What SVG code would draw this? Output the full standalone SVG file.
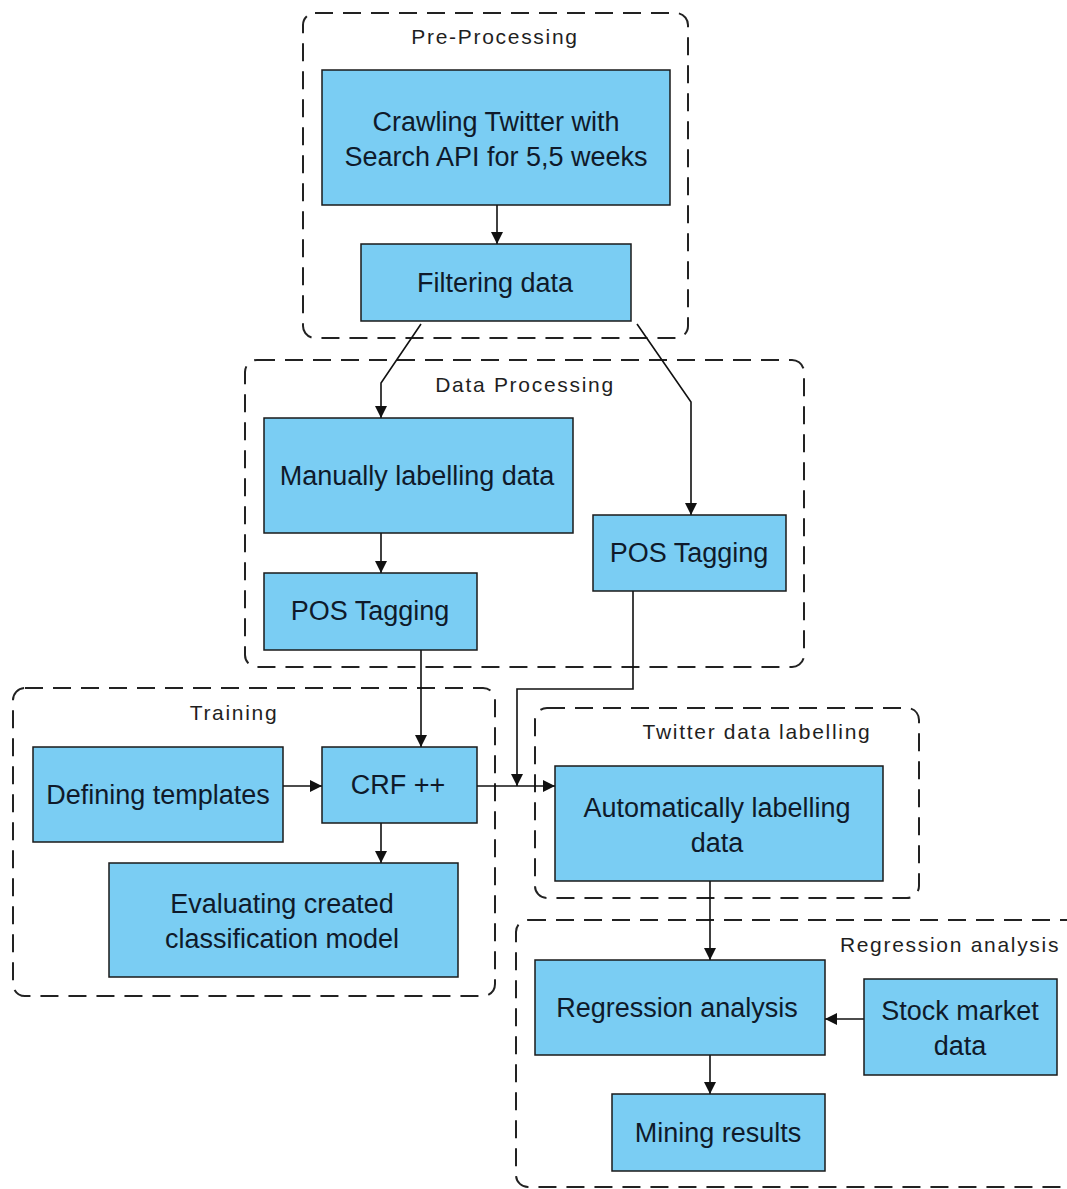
<svg xmlns="http://www.w3.org/2000/svg" width="1067" height="1189" viewBox="0 0 1067 1189">
<defs>
<marker id="ah" viewBox="0 0 10 10" refX="10" refY="5" markerWidth="12" markerHeight="12" markerUnits="userSpaceOnUse" orient="auto">
<path d="M0,0 L10,5 L0,10 Z" fill="#111"/>
</marker>
<style>
.grp{fill:none;stroke:#222;stroke-width:2;stroke-dasharray:18 10}
.gl{font-family:"Liberation Sans",Arial,sans-serif;font-size:21px;letter-spacing:1.7px;fill:#1f1f1f;text-anchor:middle;dominant-baseline:central}
.box{fill:#7ACDF3;stroke:#1a1a1a;stroke-width:1.5}
.t{font-family:"Liberation Sans",Arial,sans-serif;font-size:27px;fill:#0f1a2a;text-anchor:middle;dominant-baseline:central}
.c{fill:none;stroke:#111;stroke-width:1.6;marker-end:url(#ah)}
</style>
</defs>
<rect width="1067" height="1189" fill="#fff"/>
<g id="groups">
<g id="g-pre"><rect class="grp" x="303" y="13" width="385" height="325" rx="12"/><text class="gl" x="495" y="36">Pre-Processing</text></g>
<g id="g-data"><rect class="grp" x="245" y="360" width="559" height="307" rx="12"/><text class="gl" x="525" y="384">Data Processing</text></g>
<g id="g-train"><rect class="grp" x="13" y="688" width="482" height="308" rx="12"/><text class="gl" x="234" y="712">Training</text></g>
<g id="g-twit"><rect class="grp" x="535" y="708" width="384" height="190" rx="12"/><text class="gl" x="757" y="731">Twitter data labelling</text></g>
<g id="g-reg"><rect class="grp" x="516" y="920" width="570" height="267" rx="12"/><text class="gl" x="950" y="944">Regression analysis</text></g>
</g>
<g id="connectors">
<path class="c" d="M497,205 L497,244"/>
<path class="c" d="M421,324 L381,383 L381,418"/>
<path class="c" d="M637,324 L691,402 L691,515"/>
<path class="c" d="M381,533 L381,573"/>
<path class="c" d="M421,650 L421,747"/>
<path class="c" d="M633,591 L633,689 L517,689 L517,786"/>
<path class="c" d="M283,786 L322,786"/>
<path class="c" d="M381,823 L381,863"/>
<path class="c" d="M477,786 L555,786"/>
<path class="c" d="M710,881 L710,960"/>
<path class="c" d="M864,1019 L825,1019"/>
<path class="c" d="M710,1055 L710,1094"/>
</g>
<g id="n-crawl"><rect class="box" x="322" y="70" width="348" height="135"/><text class="t" x="496" y="122">Crawling Twitter with</text><text class="t" x="496" y="157">Search API for 5,5 weeks</text></g>
<g id="n-filter"><rect class="box" x="361" y="244" width="270" height="77"/><text class="t" x="495" y="283">Filtering data</text></g>
<g id="n-manual"><rect class="box" x="264" y="418" width="309" height="115"/><text class="t" x="417" y="476">Manually labelling data</text></g>
<g id="n-pos1"><rect class="box" x="264" y="573" width="213" height="77"/><text class="t" x="370" y="611">POS Tagging</text></g>
<g id="n-pos2"><rect class="box" x="593" y="515" width="193" height="76"/><text class="t" x="689" y="553">POS Tagging</text></g>
<g id="n-def"><rect class="box" x="33" y="747" width="250" height="95"/><text class="t" x="158" y="795">Defining templates</text></g>
<g id="n-crf"><rect class="box" x="322" y="747" width="155" height="76"/><text class="t" x="398" y="785">CRF ++</text></g>
<g id="n-eval"><rect class="box" x="109" y="863" width="349" height="114"/><text class="t" x="282" y="904">Evaluating created</text><text class="t" x="282" y="939">classification model</text></g>
<g id="n-auto"><rect class="box" x="555" y="766" width="328" height="115"/><text class="t" x="717" y="808">Automatically labelling</text><text class="t" x="717" y="843">data</text></g>
<g id="n-reg"><rect class="box" x="535" y="960" width="290" height="95"/><text class="t" x="677" y="1008">Regression analysis</text></g>
<g id="n-stock"><rect class="box" x="864" y="979" width="193" height="96"/><text class="t" x="960" y="1011">Stock market</text><text class="t" x="960" y="1046">data</text></g>
<g id="n-mine"><rect class="box" x="612" y="1094" width="213" height="77"/><text class="t" x="718" y="1133">Mining results</text></g>
</svg>
